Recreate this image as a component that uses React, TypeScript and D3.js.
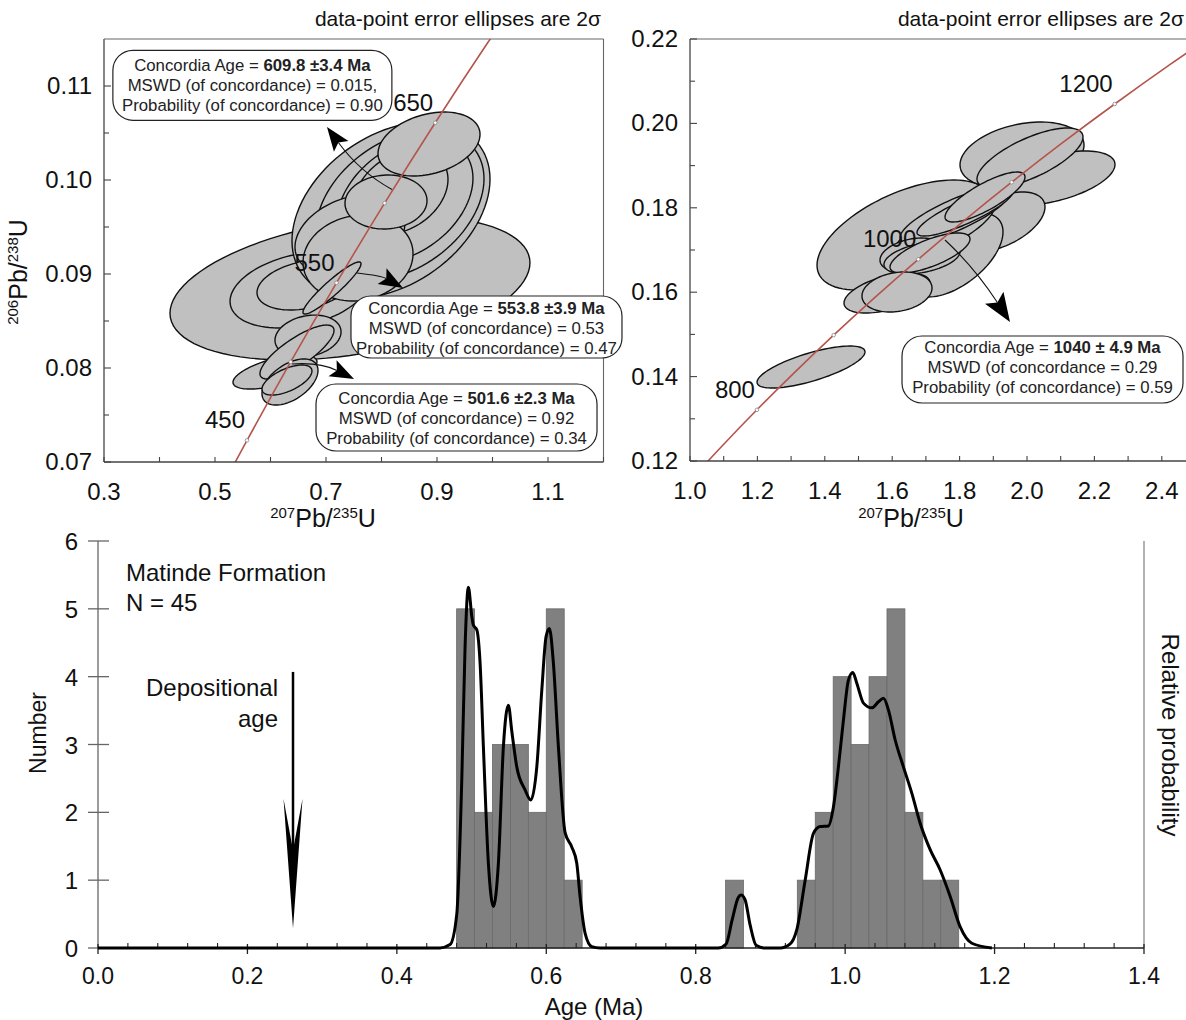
import React from 'react';
import * as d3 from 'd3';

const FONT = '"Liberation Sans", Arial, Helvetica, sans-serif';

// ---------- Histogram data (Age axis in "Ma" units as labelled) ----------
const histBinStart = 0.48;
const histBinWidth = 0.024;
const histCounts = [5, 2, 3, 3, 2, 5, 1, 0, 0, 0, 0, 0, 0, 0, 0, 1, 0, 0, 0, 1, 2, 4, 3, 4, 5, 2, 1, 1];

// Probability density curve (in "Number" units)
const pdfAges = [0, 0.4578, 0.4712, 0.4802, 0.4869, 0.4913, 0.4957, 0.5003, 0.5024, 0.507, 0.5114, 0.5158, 0.5225, 0.5292, 0.5359, 0.5426, 0.5493, 0.5538, 0.5605, 0.5716, 0.5793, 0.5873, 0.594, 0.5997, 0.6042, 0.6095, 0.6162, 0.6252, 0.6341, 0.6408, 0.6452, 0.6519, 0.6609, 0.672, 0.83, 0.8407, 0.8487, 0.8568, 0.8608, 0.8661, 0.8728, 0.8809, 0.8929, 0.913, 0.9264, 0.9353, 0.9465, 0.9576, 0.9665, 0.9776, 0.9843, 0.991, 0.9977, 1.0044, 1.0103, 1.0157, 1.0245, 1.0357, 1.0446, 1.0513, 1.0579, 1.0669, 1.078, 1.0893, 1.1004, 1.1138, 1.1272, 1.1406, 1.154, 1.1696, 1.1964];
const pdfValues = [0, 0, 0.05, 0.5, 2.48, 4.44, 5.32, 4.89, 4.76, 4.69, 4.2, 2.97, 1.25, 0.61, 1.25, 2.97, 3.58, 3.2, 2.67, 2.33, 2.18, 2.67, 3.8, 4.59, 4.71, 4.2, 2.97, 1.7, 1.49, 1.25, 0.76, 0.22, 0.02, 0, 0, 0.06, 0.41, 0.74, 0.78, 0.71, 0.34, 0.04, 0, 0, 0.06, 0.27, 1.0, 1.69, 1.79, 1.8, 2.08, 2.67, 3.36, 3.95, 4.06, 3.9, 3.61, 3.54, 3.63, 3.68, 3.51, 3.07, 2.67, 2.28, 1.84, 1.45, 1.15, 0.76, 0.31, 0.07, 0];

const histYTicks = [0, 1, 2, 3, 4, 5, 6];
const histXTicks = [0, 0.2, 0.4, 0.6, 0.8, 1.0, 1.2, 1.4];

// ---------- Concordia curves ----------
const concAgesL = [400, 450, 500, 550, 600, 650, 700, 750];
const concXL = [0.4828, 0.5577, 0.6363, 0.7189, 0.8056, 0.8968, 0.9925, 1.0931];
const concYL = [0.06402, 0.0723, 0.08065, 0.08906, 0.09754, 0.10609, 0.1147, 0.12338];
const markAgesL = [450, 500, 550, 600, 650];
const labelAgesL = [450, 550, 650];

const concAgesR = [700, 750, 800, 850, 900, 950, 1000, 1050, 1100, 1150, 1200, 1250, 1300];
const concXR = [0.9925, 1.0931, 1.1987, 1.3097, 1.4263, 1.5488, 1.6774, 1.8126, 1.9545, 2.1036, 2.2603, 2.4249, 2.5977];
const concYR = [0.1147, 0.12338, 0.13213, 0.14094, 0.14983, 0.15878, 0.1678, 0.1769, 0.18606, 0.1953, 0.2046, 0.21398, 0.22343];
const markAgesR = [800, 900, 1000, 1100, 1200];
const labelAgesR = [800, 1000, 1200];

// ---------- Error ellipses: [207Pb/235U, 206Pb/238U, 2s x, 2s y, rho] ----------
const ellipsesL = [
  [0.7432, 0.08851, 0.3243, 0.00766, 0.35],
  [0.6532, 0.0883, 0.1261, 0.00404, 0.3],
  [0.6622, 0.08883, 0.0865, 0.00266, 0.3],
  [0.8171, 0.09681, 0.1784, 0.00936, 0.35],
  [0.8333, 0.09734, 0.1514, 0.00798, 0.35],
  [0.8423, 0.09787, 0.1225, 0.0066, 0.35],
  [0.8351, 0.09872, 0.0847, 0.00447, 0.3],
  [0.7432, 0.09415, 0.0991, 0.00426, 0.3],
  [0.7577, 0.0917, 0.0991, 0.00457, 0.1],
  [0.8081, 0.09766, 0.0739, 0.00287, 0.05],
  [0.8856, 0.10383, 0.0919, 0.0034, 0.3],
  [0.7108, 0.08851, 0.0523, 0.00277, 0.93],
  [0.6081, 0.07957, 0.0757, 0.00181, 0.6],
  [0.6676, 0.0834, 0.0595, 0.00223, 0.2],
  [0.6477, 0.0817, 0.0667, 0.00287, 0.8],
  [0.6351, 0.07851, 0.0505, 0.00245, 0.5],
  [0.6297, 0.07872, 0.045, 0.0016, 0.6],
];
const ellipsesR = [
  [1.638, 0.17355, 0.2611, 0.01303, 0.55],
  [1.9852, 0.19251, 0.184, 0.00782, 0.3],
  [2.0831, 0.18706, 0.178, 0.0064, 0.5],
  [1.8457, 0.17427, 0.1484, 0.00829, 0.6],
  [1.9199, 0.17664, 0.1335, 0.00711, 0.5],
  [1.7864, 0.16882, 0.1424, 0.00995, 0.55],
  [2.0089, 0.1918, 0.1573, 0.00711, 0.7],
  [1.7567, 0.17521, 0.1484, 0.00711, 0.75],
  [1.7864, 0.17829, 0.1632, 0.00664, 0.8],
  [1.816, 0.179, 0.1424, 0.00569, 0.85],
  [1.8754, 0.18256, 0.1187, 0.00592, 0.8],
  [1.6588, 0.16881, 0.095, 0.00403, 0.3],
  [1.6884, 0.1681, 0.1128, 0.00379, 0.4],
  [1.7122, 0.16929, 0.1187, 0.00474, 0.7],
  [1.5846, 0.15981, 0.1276, 0.00474, 0.5],
  [1.6142, 0.16005, 0.1039, 0.00474, 0.2],
  [1.3591, 0.14227, 0.1602, 0.00498, 0.72],
];

// ---------- Callouts ----------
const calloutsL = [
  { box: [0.316, 0.1138], w: 279, h: 70, first: 21, age: '609.8 ±3.4 Ma', mswd: 'MSWD (of concordance) = 0.015,', prob: 'Probability (of concordance) = 0.90', from: [0.8189, 0.099], ctrl: [0.7613, 0.10085], tip: [0.7018, 0.10564] },
  { box: [0.745, 0.08766], w: 271, h: 62, first: 18, age: '553.8 ±3.9 Ma', mswd: 'MSWD (of concordance) = 0.53', prob: 'Probability (of concordance) = 0.47', from: [0.7559, 0.0901], ctrl: [0.8, 0.0898], tip: [0.8387, 0.08851] },
  { box: [0.682, 0.0783], w: 281, h: 67, first: 20, age: '501.6 ±2.3 Ma', mswd: 'MSWD (of concordance) = 0.92', prob: 'Probability (of concordance) = 0.34', from: [0.6387, 0.08043], ctrl: [0.6892, 0.08064], tip: [0.7505, 0.07883] },
];
const calloutsR = [
  { box: [1.6291, 0.14962], w: 281, h: 67, first: 17, age: '1040 ± 4.9 Ma', mswd: 'MSWD (of concordance = 0.29', prob: 'Probability (of concordance) = 0.59', from: [1.7567, 0.17237], ctrl: [1.8457, 0.16573], tip: [1.9496, 0.15294] },
];

// ---------- Scales ----------
const xL = d3.scaleLinear().domain([0.3, 1.2]).range([104, 603.5]);
const yL = d3.scaleLinear().domain([0.07, 0.115]).range([462, 39]);
const xR = d3.scaleLinear().domain([1.0, 2.5]).range([690, 1195.5]);
const yR = d3.scaleLinear().domain([0.12, 0.22]).range([461, 39]);
const xB = d3.scaleLinear().domain([0, 1.4]).range([98, 1144]);
const yB = d3.scaleLinear().domain([0, 6]).range([948, 541]);

function ellipsePath(e: number[], xs: any, ys: any) {
  const [cx, cy, ex, ey, r] = e;
  const s = Math.sqrt(1 - r * r);
  const pts: [number, number][] = [];
  for (let i = 0; i < 96; i++) {
    const t = (i / 96) * Math.PI * 2;
    pts.push([xs(cx + ex * Math.cos(t)), ys(cy + ey * (r * Math.cos(t) + s * Math.sin(t)))]);
  }
  return d3.line()(pts) + 'Z';
}

function Arrow({ from, ctrl, tip, len, hw }: any) {
  const dx = tip[0] - ctrl[0], dy = tip[1] - ctrl[1];
  const d = Math.hypot(dx, dy);
  const ux = dx / d, uy = dy / d;
  const nx = -uy, ny = ux;
  const bx = tip[0] - ux * len, by = tip[1] - uy * len;
  const notch = [tip[0] - ux * len * 0.8, tip[1] - uy * len * 0.8];
  const head = [tip, [bx + nx * hw, by + ny * hw], notch, [bx - nx * hw, by - ny * hw]];
  return (
    <g>
      <path d={`M${from[0]},${from[1]} Q${ctrl[0]},${ctrl[1]} ${notch[0]},${notch[1]}`} fill="none" stroke="#111" strokeWidth={1.1} />
      <path d={d3.line()(head as any) + 'Z'} fill="#000" />
    </g>
  );
}

function Callout({ c, xs, ys, len, hw }: any) {
  const x0 = xs(c.box[0]), y0 = ys(c.box[1]);
  const cx = x0 + c.w / 2;
  const fs = 16.8;
  return (
    <g>
      <Arrow from={[xs(c.from[0]), ys(c.from[1])]} ctrl={[xs(c.ctrl[0]), ys(c.ctrl[1])]} tip={[xs(c.tip[0]), ys(c.tip[1])]} len={len} hw={hw} />
      <rect x={x0} y={y0} width={c.w} height={c.h} rx={20} ry={20} fill="#fff" stroke="#222" strokeWidth={1.2} />
      <text x={cx} y={y0 + c.first} textAnchor="middle" fontSize={fs} fill="#222">
        Concordia Age = <tspan fontWeight="bold">{c.age}</tspan>
      </text>
      <text x={cx} y={y0 + c.first + 20} textAnchor="middle" fontSize={fs} fill="#222">{c.mswd}</text>
      <text x={cx} y={y0 + c.first + 40} textAnchor="middle" fontSize={fs} fill="#222">{c.prob}</text>
    </g>
  );
}

function RatioLabel({ x, y, a, b, rotate }: any) {
  return (
    <text x={x} y={y} textAnchor="middle" fill="#111" transform={rotate ? `rotate(-90,${x},${y})` : undefined}>
      <tspan fontSize={15} dy={-9}>{a}</tspan>
      <tspan fontSize={25} dy={9}>Pb/</tspan>
      <tspan fontSize={15} dy={-9}>{b}</tspan>
      <tspan fontSize={25} dy={9}>U</tspan>
    </text>
  );
}

function ConcPanel(props: any) {
  const { id, xs, ys, ells, cx, cy, ages, marks, labels, xTicks, xLabels, yMajor, yMinor, yFmt, callouts, headLen, headHw, frameRight, titleRight } = props;
  const [x0, x1] = xs.range();
  const [y1, y0] = ys.range();
  const concLine = d3.line<number>().x((_, i) => xs(cx[i])).y((_, i) => ys(cy[i])).curve(d3.curveCatmullRom);
  const pt = (age: number) => {
    const i = ages.indexOf(age);
    return [xs(cx[i]), ys(cy[i])];
  };
  return (
    <g>
      <defs>
        <clipPath id={id}>
          <rect x={x0} y={y0} width={x1 - x0} height={y1 - y0} />
        </clipPath>
      </defs>
      <g clipPath={`url(#${id})`}>
        {ells.map((e: number[], i: number) => (
          <path key={i} d={ellipsePath(e, xs, ys)} fill="#c0c0c0" stroke="#111" strokeWidth={1.4} />
        ))}
        <path d={concLine(ages) as string} fill="none" stroke="#b5544c" strokeWidth={1.6} />
        {marks.map((a: number) => {
          const p = pt(a);
          return <circle key={a} cx={p[0]} cy={p[1]} r={1.8} fill="#fff" stroke="#888" strokeWidth={0.8} />;
        })}
      </g>
      {labels.map((a: number) => {
        const p = pt(a);
        return (
          <text key={a} x={p[0] - 2} y={p[1] - 12} textAnchor="end" fontSize={24} fill="#111">{a}</text>
        );
      })}
      {/* frame */}
      <line x1={x0} x2={x0} y1={y0} y2={y1} stroke="#444" strokeWidth={1.3} />
      <line x1={x0} x2={x1} y1={y1} y2={y1} stroke="#444" strokeWidth={1.3} />
      <line x1={x0} x2={x1} y1={y0} y2={y0} stroke="#666" strokeWidth={1.1} />
      {frameRight && <line x1={x1} x2={x1} y1={y0} y2={y1} stroke="#666" strokeWidth={1.1} />}
      {yMajor.map((v: number) => (
        <g key={'ym' + v}>
          <line x1={x0} x2={x0 + 7} y1={ys(v)} y2={ys(v)} stroke="#444" strokeWidth={1.1} />
          <text x={x0 - 12} y={ys(v) + 8} textAnchor="end" fontSize={24} fill="#111">{yFmt(v)}</text>
        </g>
      ))}
      {yMinor.map((v: number) => (
        <line key={'yn' + v} x1={x0} x2={x0 + 5} y1={ys(v)} y2={ys(v)} stroke="#444" strokeWidth={1.1} />
      ))}
      {xTicks.map((v: number) => (
        <line key={'xt' + v} x1={xs(v)} x2={xs(v)} y1={y1} y2={y1 - 5} stroke="#444" strokeWidth={1.1} />
      ))}
      {xLabels.map((v: number) => (
        <text key={'xl' + v} x={xs(v)} y={y1 + 38} textAnchor="middle" fontSize={24} fill="#111">{v.toFixed(1)}</text>
      ))}
      {callouts.map((c: any, i: number) => (
        <Callout key={i} c={c} xs={xs} ys={ys} len={headLen} hw={headHw} />
      ))}
      <text x={titleRight} y={26} textAnchor="end" fontSize={21} fill="#111">
        data-point error ellipses are 2σ
      </text>
    </g>
  );
}

export default function App() {
  const pdfLine = d3
    .line<number>()
    .x((_, i) => xB(pdfAges[i]))
    .y((_, i) => yB(pdfValues[i]))
    .curve(d3.curveMonotoneX);
  const minorX = d3.range(0.04, 1.4, 0.04).filter((v) => Math.abs(v / 0.2 - Math.round(v / 0.2)) > 0.01);

  const arrowX = xB(0.261);
  const depTip = yB(0.29), depBarb = yB(2.2), depNotch = yB(1.44), depTop = yB(4.07);

  return (
    <svg width={1186} height={1020} style={{ position: 'absolute', left: 0, top: 0, background: '#fff' }} fontFamily={FONT}>
      <rect width={1186} height={1020} fill="#fff" />
      <ConcPanel
        id="clipL"
        xs={xL}
        ys={yL}
        ells={ellipsesL}
        cx={concXL}
        cy={concYL}
        ages={concAgesL}
        marks={markAgesL}
        labels={labelAgesL}
        xTicks={d3.range(0.3, 1.21, 0.1)}
        xLabels={[0.3, 0.5, 0.7, 0.9, 1.1]}
        yMajor={[0.07, 0.08, 0.09, 0.1, 0.11]}
        yMinor={[0.075, 0.085, 0.095, 0.105]}
        yFmt={d3.format('.2f')}
        callouts={calloutsL}
        headLen={24}
        headHw={9}
        frameRight={true}
        titleRight={601}
      />
      <ConcPanel
        id="clipR"
        xs={xR}
        ys={yR}
        ells={ellipsesR}
        cx={concXR}
        cy={concYR}
        ages={concAgesR}
        marks={markAgesR}
        labels={labelAgesR}
        xTicks={d3.range(1.0, 2.45, 0.1)}
        xLabels={[1.0, 1.2, 1.4, 1.6, 1.8, 2.0, 2.2, 2.4]}
        yMajor={[0.12, 0.14, 0.16, 0.18, 0.2, 0.22]}
        yMinor={[0.13, 0.15, 0.17, 0.19, 0.21]}
        yFmt={d3.format('.2f')}
        callouts={calloutsR}
        headLen={29}
        headHw={11}
        frameRight={false}
        titleRight={1184}
      />
      <RatioLabel x={323} y={527} a="207" b="235" />
      <RatioLabel x={911} y={527} a="207" b="235" />
      <RatioLabel x={27} y={272} a="206" b="238" rotate />

      {/* Histogram panel */}
      {histCounts.map((c, i) =>
        c > 0 ? (
          <rect
            key={i}
            x={xB(histBinStart + i * histBinWidth)}
            y={yB(c)}
            width={xB(histBinStart + (i + 1) * histBinWidth) - xB(histBinStart + i * histBinWidth)}
            height={yB(0) - yB(c)}
            fill="#808080"
            stroke="#6a6a6a"
            strokeWidth={0.8}
          />
        ) : null
      )}
      <line x1={xB(0)} x2={xB(0)} y1={yB(6)} y2={yB(0)} stroke="#666" strokeWidth={1.3} />
      <line x1={xB(1.4)} x2={xB(1.4)} y1={yB(6)} y2={yB(0)} stroke="#888" strokeWidth={1.3} />
      <line x1={xB(0)} x2={xB(1.4)} y1={yB(0)} y2={yB(0)} stroke="#222" strokeWidth={1.3} />
      {histYTicks.map((v) => (
        <g key={'hy' + v}>
          <line x1={xB(0) - 10} x2={xB(0) + 11} y1={yB(v)} y2={yB(v)} stroke="#666" strokeWidth={1.3} />
          <text x={xB(0) - 20} y={yB(v) + 9} textAnchor="end" fontSize={24} fill="#111">{v}</text>
        </g>
      ))}
      {histXTicks.map((v) => (
        <g key={'hx' + v}>
          <line x1={xB(v)} x2={xB(v)} y1={yB(0) - 4} y2={yB(0) + 6} stroke="#222" strokeWidth={1.3} />
          <text x={xB(v)} y={yB(0) + 36} textAnchor="middle" fontSize={23} fill="#111">{v.toFixed(1)}</text>
        </g>
      ))}
      {minorX.map((v) => (
        <line key={'mx' + v} x1={xB(v)} x2={xB(v)} y1={yB(0)} y2={yB(0) - 5} stroke="#222" strokeWidth={1.1} />
      ))}
      <path d={pdfLine(pdfAges) as string} fill="none" stroke="#000" strokeWidth={3} strokeLinejoin="round" />

      {/* Depositional age arrow */}
      <line x1={arrowX} x2={arrowX} y1={depTop} y2={depNotch} stroke="#000" strokeWidth={2.5} />
      <path
        d={`M${arrowX},${depTip} L${arrowX - 9.5},${depBarb} L${arrowX},${depNotch} L${arrowX + 9.5},${depBarb} Z`}
        fill="#000"
      />
      <text x={xB(0.241)} y={yB(3.72)} textAnchor="end" fontSize={24} fill="#111">Depositional</text>
      <text x={xB(0.241)} y={yB(3.26)} textAnchor="end" fontSize={24} fill="#111">age</text>
      <text x={xB(0.0375)} y={yB(5.41)} fontSize={24} fill="#111">Matinde Formation</text>
      <text x={xB(0.0375)} y={yB(4.97)} fontSize={24} fill="#111">N = 45</text>

      <text x={46} y={733} textAnchor="middle" fontSize={23} fill="#111" transform="rotate(-90,46,733)">Number</text>
      <text x={1162} y={735} textAnchor="middle" fontSize={24} fill="#111" transform="rotate(90,1162,735)">Relative probability</text>
      <text x={594} y={1015} textAnchor="middle" fontSize={24} fill="#111">Age (Ma)</text>
    </svg>
  );
}
